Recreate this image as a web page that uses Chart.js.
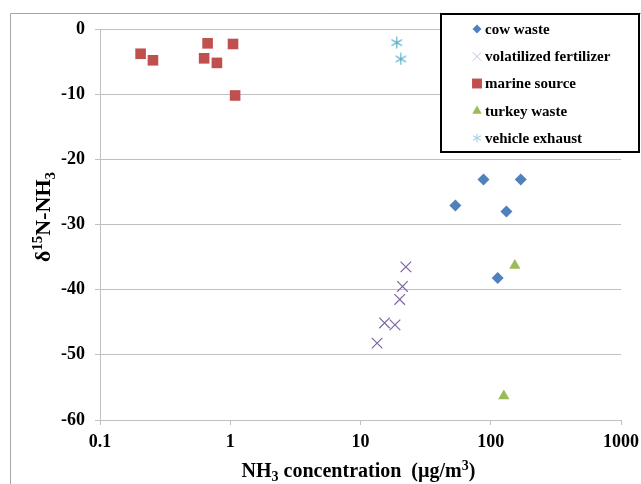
<!DOCTYPE html>
<html>
<head>
<meta charset="utf-8">
<script src="https://cdn.jsdelivr.net/npm/chart.js@4.4.1/dist/chart.umd.min.js"></script>
<style>
  html, body { margin: 0; padding: 0; background: #fff; }
  canvas { display: block; }
</style>
</head>
<body>
<canvas id="chart" width="641" height="484"></canvas>
<script>
  // Series names and values
  const seriesNames = ['cow waste', 'volatilized fertilizer', 'marine source', 'turkey waste', 'vehicle exhaust'];

  const cowX = [88, 170, 53.5, 132, 113];
  const cowY = [-23.1, -23.1, -27.1, -28.0, -38.2];
  const fertX = [22.3, 21, 20, 15.3, 18.4, 13.4];
  const fertY = [-36.5, -39.5, -41.5, -45.1, -45.4, -48.2];
  const marineX = [0.205, 0.255, 0.63, 0.67, 0.79, 1.05, 1.09];
  const marineY = [-3.8, -4.8, -4.5, -2.2, -5.2, -2.3, -10.2];
  const turkeyX = [153, 126];
  const turkeyY = [-36.3, -56.3];
  const exhaustX = [19, 20.4];
  const exhaustY = [-2.1, -4.6];

  // Axis ticks
  const xTickValues = [0.1, 1, 10, 100, 1000];
  const xTickLabels = ['0.1', '1', '10', '100', '1000'];
  const yTickValues = [-60, -50, -40, -30, -20, -10, 0];
  const yTickLabels = ['-60', '-50', '-40', '-30', '-20', '-10', '0'];

  const serif = '"Liberation Serif", "Times New Roman", serif';
  const gridColor = '#C0C0C0';

  function toPoints(xs, ys) {
    return xs.map((x, i) => ({ x: x, y: ys[i] }));
  }

  // asterisk marker (vertical line + x), like the original
  function asterisk(size, color) {
    const c = document.createElement('canvas');
    c.width = size;
    c.height = size;
    const g = c.getContext('2d');
    const m = size / 2;
    const r = size / 2 - 0.5;
    g.strokeStyle = color;
    g.lineWidth = 1.1;
    g.beginPath();
    g.moveTo(m, m - r);
    g.lineTo(m, m + r);
    const d = r * Math.cos(Math.PI / 6);
    const e = r * Math.sin(Math.PI / 6);
    g.moveTo(m - d, m - e);
    g.lineTo(m + d, m + e);
    g.moveTo(m - d, m + e);
    g.lineTo(m + d, m - e);
    g.stroke();
    return c;
  }

  const exhaustMarker = asterisk(13, '#4BACC6');
  const exhaustLegendMarker = asterisk(10, '#9FD6E6');

  const datasets = [
    { label: seriesNames[0], data: toPoints(cowX, cowY), pointStyle: 'rectRot', pointRadius: 6,
      backgroundColor: '#4F81BD', borderColor: '#4F81BD', borderWidth: 0 },
    { label: seriesNames[1], data: toPoints(fertX, fertY), pointStyle: 'crossRot', pointRadius: 7.5,
      backgroundColor: '#8064A2', borderColor: '#8064A2', borderWidth: 1.2 },
    { label: seriesNames[2], data: toPoints(marineX, marineY), pointStyle: 'rect', pointRadius: 7.5,
      backgroundColor: '#C0504D', borderColor: '#C0504D', borderWidth: 0 },
    { label: seriesNames[3], data: toPoints(turkeyX, turkeyY), pointStyle: 'triangle', pointRadius: 6.5,
      backgroundColor: '#9BBB59', borderColor: '#9BBB59', borderWidth: 0 },
    { label: seriesNames[4], data: toPoints(exhaustX, exhaustY), pointStyle: exhaustMarker, pointRadius: 6,
      backgroundColor: '#4BACC6', borderColor: '#4BACC6', borderWidth: 0 }
  ];

  const legendStyles = [
    { pointStyle: 'rectRot', radius: 4.5, color: '#4F81BD', borderWidth: 0 },
    { pointStyle: 'crossRot', radius: 6, color: '#C9BEDD', borderWidth: 1 },
    { pointStyle: 'rect', radius: 7, color: '#C0504D', borderWidth: 0 },
    { pointStyle: 'triangle', radius: 5.5, color: '#9BBB59', borderWidth: 0 },
    { pointStyle: exhaustLegendMarker, radius: 5, color: '#9FD6E6', borderWidth: 0 }
  ];

  // draw text with sub / superscript pieces
  function drawRich(ctx, parts, size) {
    const small = Math.round(size * 0.68);
    let total = 0;
    parts.forEach(p => {
      ctx.font = 'bold ' + (p.s ? small : size) + 'px ' + serif;
      p.w = ctx.measureText(p.t).width;
      total += p.w;
    });
    let x = -total / 2;
    ctx.textBaseline = 'alphabetic';
    ctx.textAlign = 'left';
    parts.forEach(p => {
      ctx.font = 'bold ' + (p.s ? small : size) + 'px ' + serif;
      let dy = 0;
      if (p.s === 'sub') dy = size * 0.22;
      if (p.s === 'sup') dy = -size * 0.36;
      ctx.fillText(p.t, x, dy);
      x += p.w;
    });
  }

  const decorPlugin = {
    id: 'decor',
    beforeDraw(chart) {
      const ctx = chart.ctx;
      ctx.save();
      ctx.fillStyle = '#fff';
      ctx.fillRect(0, 0, chart.width, chart.height);
      ctx.strokeStyle = '#A6A6A6';
      ctx.lineWidth = 1;
      ctx.beginPath();
      ctx.moveTo(10.5, chart.height);
      ctx.lineTo(10.5, 13.5);
      ctx.lineTo(chart.width, 13.5);
      ctx.stroke();
      ctx.restore();
    },
    afterDraw(chart) {
      const ctx = chart.ctx;
      const area = chart.chartArea;
      ctx.save();
      ctx.fillStyle = '#000';

      // x axis title
      ctx.save();
      ctx.translate((area.left + area.right) / 2 - 2, 477);
      drawRich(ctx, [
        { t: 'NH' }, { t: '3', s: 'sub' }, { t: ' concentration  (\u00B5g/m' }, { t: '3', s: 'sup' }, { t: ')' }
      ], 20);
      ctx.restore();

      // y axis title
      ctx.save();
      ctx.translate(50, 217);
      ctx.rotate(-Math.PI / 2);
      drawRich(ctx, [
        { t: '\u03B4' }, { t: '15', s: 'sup' }, { t: 'N-NH' }, { t: '3', s: 'sub' }
      ], 22);
      ctx.restore();

      // legend box
      const bx = 441, by = 14, bw = 198, bh = 138;
      ctx.fillStyle = '#fff';
      ctx.fillRect(bx, by, bw, bh);
      ctx.strokeStyle = '#000';
      ctx.lineWidth = 2;
      ctx.strokeRect(bx, by, bw, bh);

      const rowY = [29, 56.5, 83.5, 111, 138];
      chart.data.datasets.forEach((ds, i) => {
        const st = legendStyles[i];
        ctx.fillStyle = st.color;
        ctx.strokeStyle = st.color;
        ctx.lineWidth = st.borderWidth || 1;
        Chart.helpers.drawPoint(ctx, {
          pointStyle: st.pointStyle, radius: st.radius, rotation: 0, borderWidth: st.borderWidth
        }, 477, rowY[i]);
        ctx.fillStyle = '#000';
        ctx.font = 'bold 15px ' + serif;
        ctx.textAlign = 'left';
        ctx.textBaseline = 'middle';
        ctx.fillText(ds.label, 485, rowY[i] + 1);
      });
      ctx.restore();
    }
  };

  new Chart(document.getElementById('chart'), {
    type: 'scatter',
    data: { datasets: datasets },
    options: {
      responsive: false,
      animation: false,
      events: [],
      layout: { padding: { top: 29, right: 20, left: 0, bottom: 0 } },
      plugins: {
        legend: { display: false },
        tooltip: { enabled: false }
      },
      scales: {
        x: {
          type: 'logarithmic',
          min: 0.1,
          max: 1000,
          afterBuildTicks: (scale) => { scale.ticks = xTickValues.map(v => ({ value: v })); },
          afterFit: (scale) => {
            scale.height = 64;
            // keep the plot right edge fixed, the last label may run into the margin
            scale.paddingLeft = 0;
            scale.paddingRight = 0;
          },
          ticks: {
            autoSkip: false,
            maxRotation: 0,
            padding: 7,
            color: '#000',
            font: { family: serif, size: 18, weight: 'bold' },
            callback: (value) => {
              const i = xTickValues.indexOf(value);
              return i >= 0 ? xTickLabels[i] : '';
            }
          },
          grid: { drawOnChartArea: false, drawTicks: true, tickLength: 5, color: gridColor },
          border: { display: true, color: gridColor },
          title: { display: false }
        },
        y: {
          min: -60,
          max: 0,
          afterBuildTicks: (scale) => { scale.ticks = yTickValues.map(v => ({ value: v })); },
          afterFit: (scale) => { scale.width = 100; },
          ticks: {
            padding: 10,
            color: '#000',
            font: { family: serif, size: 18, weight: 'bold' },
            callback: (value) => {
              const i = yTickValues.indexOf(value);
              return i >= 0 ? yTickLabels[i] : '';
            }
          },
          grid: { drawTicks: true, tickLength: 5, color: gridColor },
          border: { display: true, color: gridColor },
          title: { display: false }
        }
      }
    },
    plugins: [decorPlugin]
  });
</script>
</body>
</html>
